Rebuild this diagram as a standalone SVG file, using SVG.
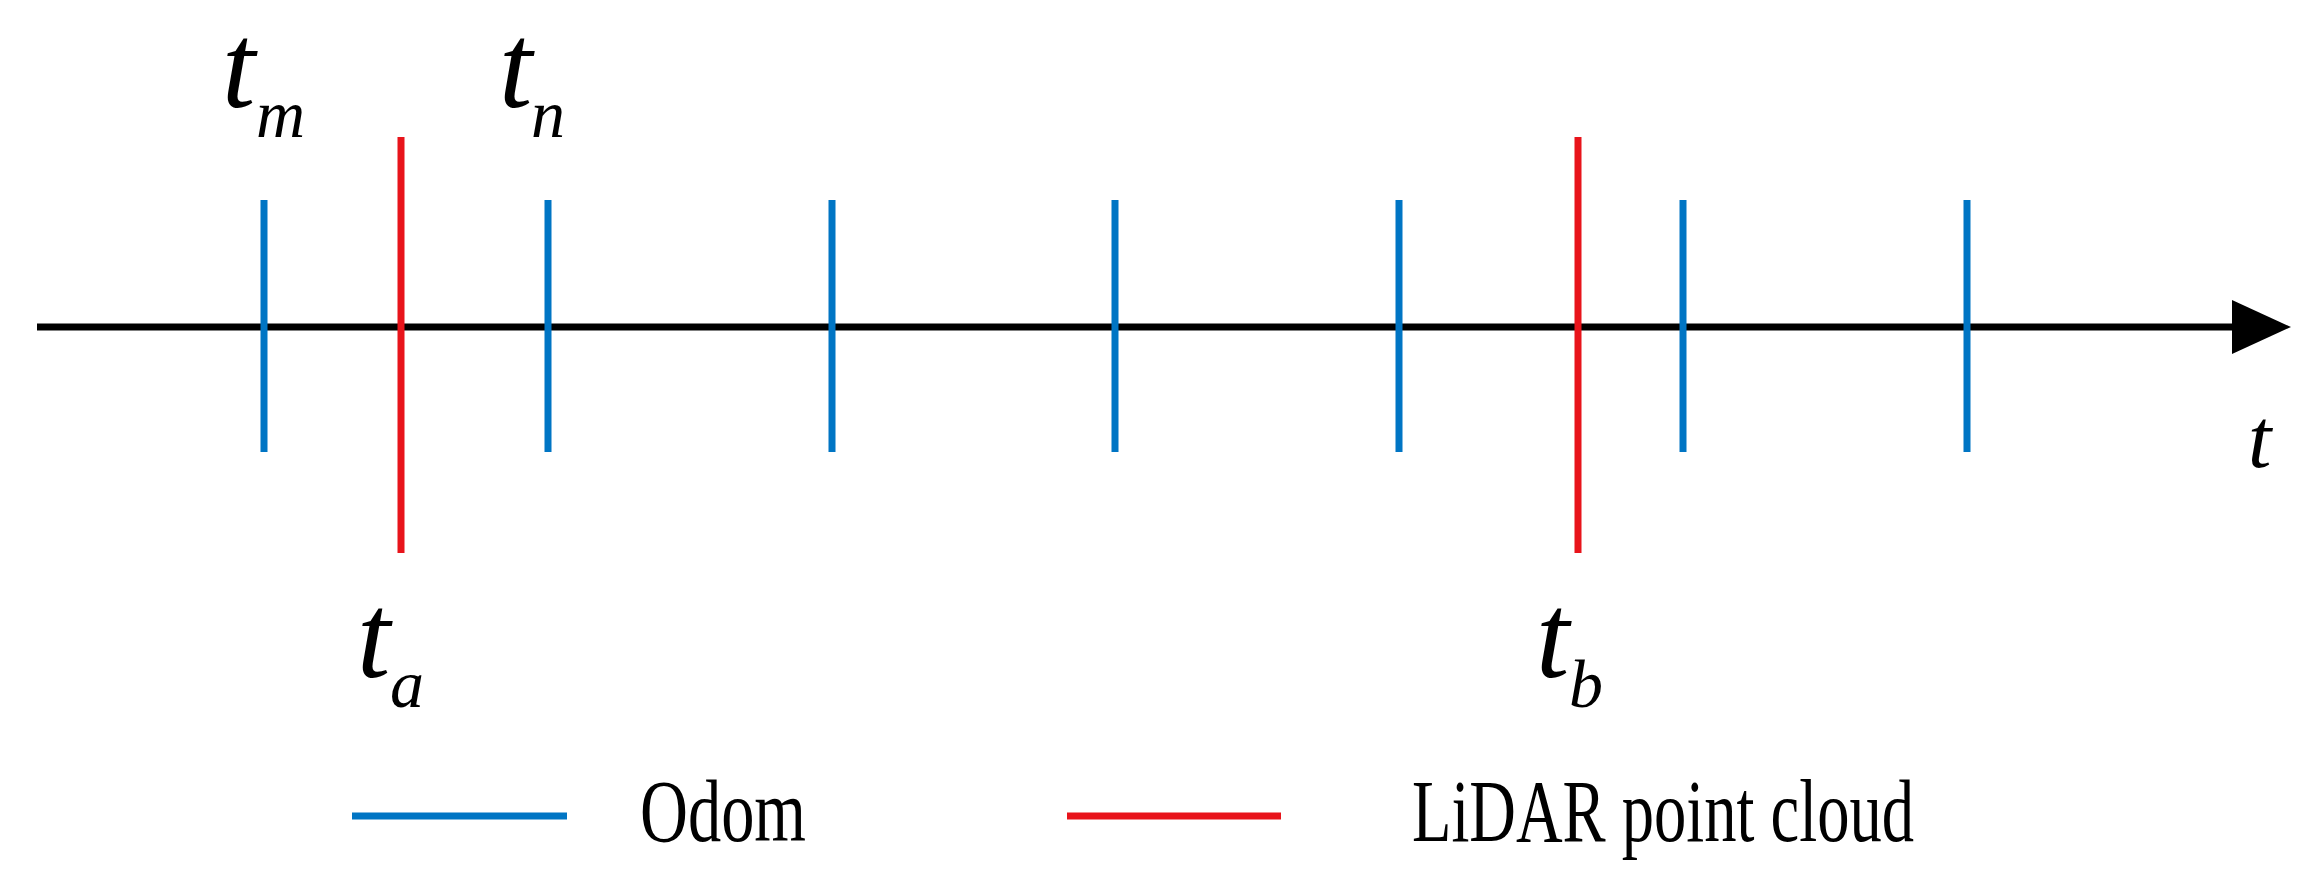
<svg xmlns="http://www.w3.org/2000/svg" width="2313" height="887" viewBox="0 0 2313 887">
<style>
.odom{stroke:#0075C4;stroke-width:7;fill:none}
.lidar{stroke:#E8141B;stroke-width:7;fill:none}
.axis{stroke:#000;stroke-width:7;fill:none}
.lbl{font-family:"Liberation Serif","Times New Roman",serif;font-style:italic;fill:#000}
.big{font-size:120px}
.sub{font-size:68px}
.leg{font-family:"Liberation Serif","Times New Roman",serif;font-size:89px;fill:#000}
</style>
<rect width="2313" height="887" fill="#fff"/>
<g id="connectors">
<line id="time-axis" class="axis" x1="37" y1="327" x2="2236" y2="327"/>
<polygon id="axis-arrowhead" points="2232,300 2291,327 2232,354" fill="#000"/>
</g>
<g id="odom-ticks">
<line class="odom" x1="264" y1="200" x2="264" y2="452"/>
<line class="odom" x1="548" y1="200" x2="548" y2="452"/>
<line class="odom" x1="832" y1="200" x2="832" y2="452"/>
<line class="odom" x1="1115" y1="200" x2="1115" y2="452"/>
<line class="odom" x1="1399" y1="200" x2="1399" y2="452"/>
<line class="odom" x1="1683" y1="200" x2="1683" y2="452"/>
<line class="odom" x1="1967" y1="200" x2="1967" y2="452"/>
</g>
<g id="lidar-ticks">
<line class="lidar" x1="401" y1="137" x2="401" y2="553"/>
<line class="lidar" x1="1578" y1="137" x2="1578" y2="553"/>
</g>
<g id="label-tm"><text class="lbl big" x="222" y="107">t</text><text class="lbl sub" x="256" y="137">m</text></g>
<g id="label-tn"><text class="lbl big" x="499" y="107">t</text><text class="lbl sub" x="531" y="137">n</text></g>
<g id="label-ta"><text class="lbl big" x="357" y="677">t</text><text class="lbl sub" x="390" y="707">a</text></g>
<g id="label-tb"><text class="lbl big" x="1536" y="677">t</text><text class="lbl sub" x="1569" y="707">b</text></g>
<g id="label-t"><text class="lbl" font-size="84" x="2248" y="467">t</text></g>
<g id="legend-odom">
<line class="odom" x1="352" y1="816" x2="567" y2="816"/>
<text class="leg" x="640" y="841" textLength="166" lengthAdjust="spacingAndGlyphs">Odom</text>
</g>
<g id="legend-lidar">
<line class="lidar" x1="1067" y1="816" x2="1281" y2="816"/>
<text class="leg" x="1412" y="841" textLength="502" lengthAdjust="spacingAndGlyphs">LiDAR point cloud</text>
</g>
</svg>
